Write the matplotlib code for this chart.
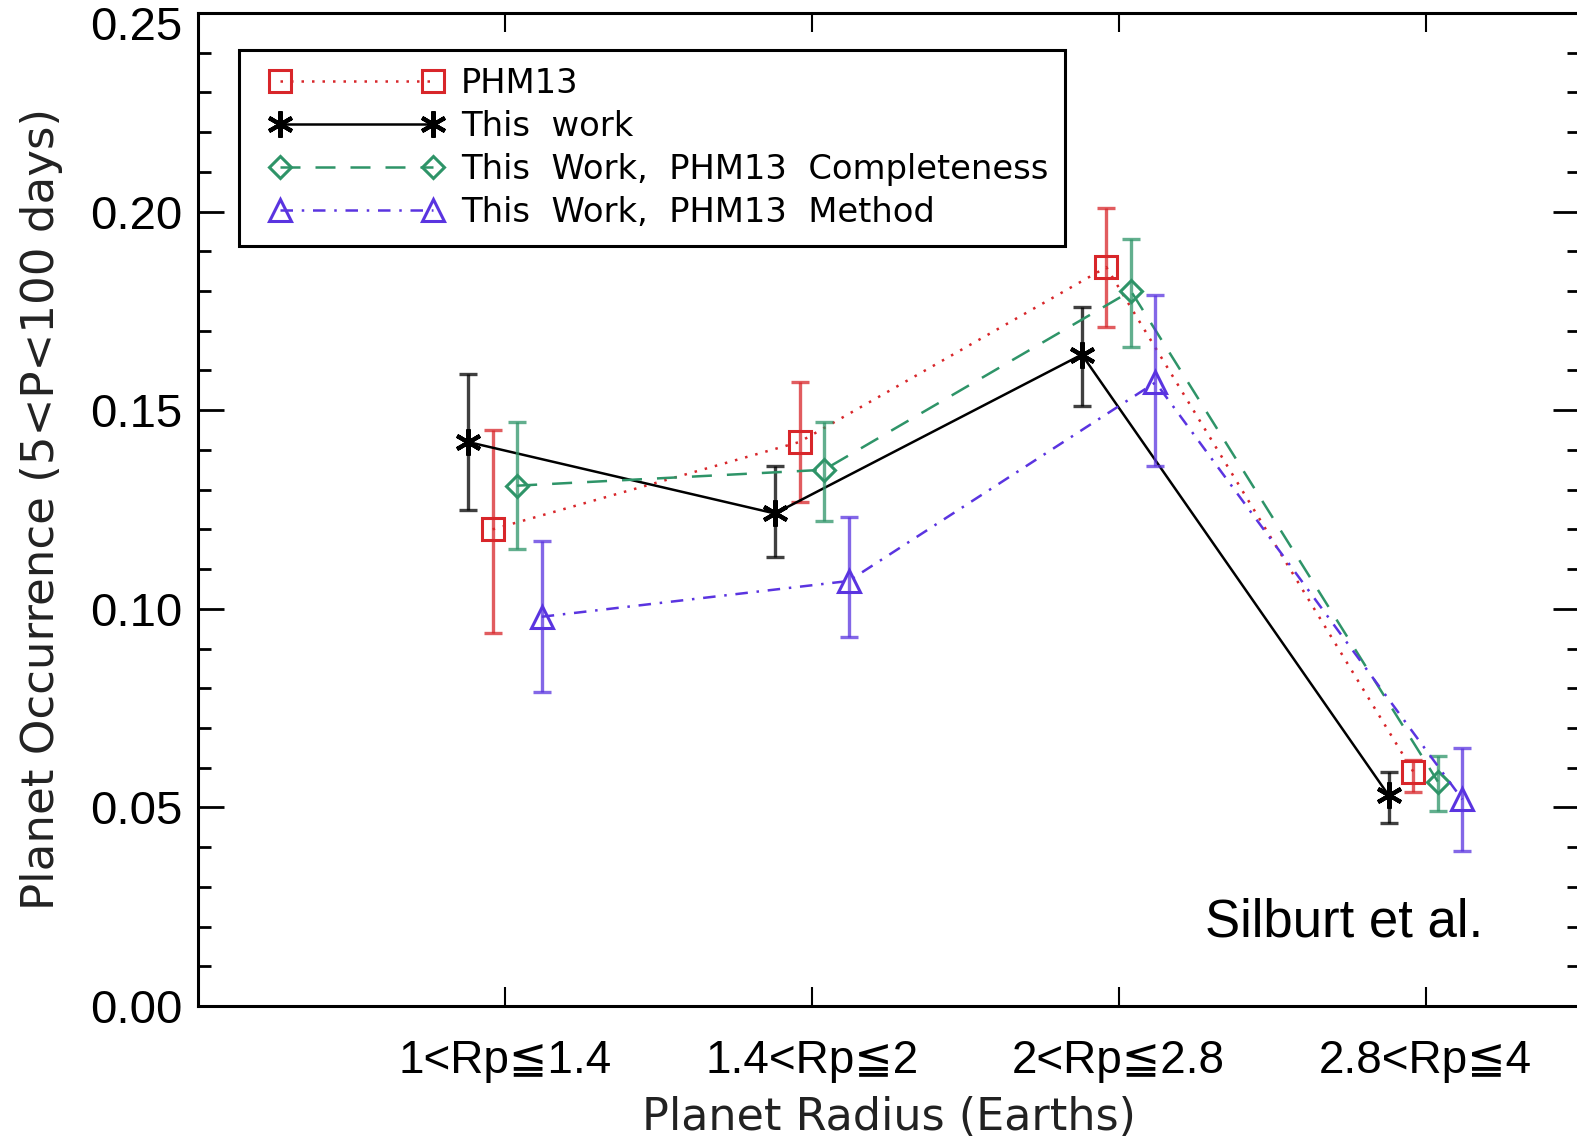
import numpy as np
import matplotlib
matplotlib.use('Agg')
import matplotlib.pyplot as plt
from matplotlib.ticker import MultipleLocator, FuncFormatter
from matplotlib.legend_handler import HandlerLine2D

# radius bins
categories = ["1<Rp≦1.4", "1.4<Rp≦2", "2<Rp≦2.8", "2.8<Rp≦4"]

# PHM13
phm13 = [0.120, 0.142, 0.186, 0.059]
phm13_lo = [0.094, 0.127, 0.171, 0.054]
phm13_hi = [0.145, 0.157, 0.201, 0.062]

# This work
work = [0.142, 0.124, 0.164, 0.053]
work_lo = [0.125, 0.113, 0.151, 0.046]
work_hi = [0.159, 0.136, 0.176, 0.059]

# This Work, PHM13 Completeness
compl = [0.131, 0.135, 0.180, 0.0565]
compl_lo = [0.115, 0.122, 0.166, 0.049]
compl_hi = [0.147, 0.147, 0.193, 0.063]

# This Work, PHM13 Method
meth = [0.098, 0.107, 0.157, 0.052]
meth_lo = [0.079, 0.093, 0.136, 0.039]
meth_hi = [0.117, 0.123, 0.179, 0.065]

sans = ['Liberation Sans', 'DejaVu Sans']
thin = ['DejaVu Sans']

fig = plt.figure(figsize=(15.77, 11.39), dpi=100)
ax = fig.add_axes([198/1577, 1-1006/1139, 1381/1577, 993/1139])

x = np.arange(1, len(categories)+1)

def series(vals, lo, hi, off, color, ls, marker, ms, label, mew=2.2):
    vals = np.array(vals)
    yerr = [vals-np.array(lo), np.array(hi)-vals]
    ax.errorbar(x+off, vals, yerr=yerr, fmt='none', ecolor=color, elinewidth=2.4,
                capsize=6.5, capthick=2.4, alpha=0.75)
    ax.plot(x+off, vals, color=color, linestyle=ls, lw=1.8, marker=marker,
            markersize=ms, mfc='none', mec=color, mew=mew, label=label)

series(phm13, phm13_lo, phm13_hi, -0.04, '#d8262a', (0, (1, 3.2)), 's', 16, 'PHM13')
series(work, work_lo, work_hi, -0.12, 'black', '-', (6, 2, 0), 19, 'This  work', mew=3)
series(compl, compl_lo, compl_hi, 0.04, '#2e9468', (0, (8, 6)), 'D', 11, 'This  Work,  PHM13  Completeness')
series(meth, meth_lo, meth_hi, 0.12, '#5a34e0', (0, (5, 3.5, 1, 3.5)), '^', 16, 'This  Work,  PHM13  Method')

ax.set_xlim(0, 4.5)
ax.set_ylim(0, 0.25)
ax.set_xticks(x)
ax.set_xticklabels(categories, family=sans, fontsize=33)
ax.yaxis.set_major_locator(MultipleLocator(0.05))
ax.yaxis.set_minor_locator(MultipleLocator(0.01))
# top label is drawn separately, shifted down like the original
ax.yaxis.set_major_formatter(FuncFormatter(lambda v, p: '' if v > 0.245 else '%.2f' % v))
for lab in ax.get_yticklabels():
    lab.set_family(sans)
    lab.set_fontsize(34)
ax.annotate('0.25', xy=(0, 0.25), xycoords=('axes fraction', 'data'), xytext=(-11.5, -10.5),
            textcoords='offset points', ha='right', va='center', family=sans, fontsize=34)
ax.tick_params(axis='y', which='major', direction='in', length=19, width=2, left=True, right=True, pad=11)
ax.tick_params(axis='y', which='minor', direction='in', length=9, width=2, left=True, right=True)
ax.tick_params(axis='x', which='major', direction='in', length=14, width=1.5, top=True, bottom=True, pad=24)
for s in ax.spines.values():
    s.set_linewidth(2.2)

ax.set_xlabel('Planet Radius (Earths)', family=thin, fontsize=32, color='#222222', labelpad=9)
ax.set_ylabel('Planet Occurrence (5<P<100 days)', family=thin, fontsize=32.5, color='#222222', labelpad=20)

leg = ax.legend(loc='upper left', bbox_to_anchor=(0.030, 0.963), borderaxespad=0,
                prop={'family': thin, 'size': 24.3}, numpoints=2, handlelength=5.95,
                handletextpad=0.12, labelspacing=0.3, borderpad=0.5, fancybox=False,
                framealpha=1, edgecolor='black',
                handler_map={plt.Line2D: HandlerLine2D(marker_pad=0.7)})
leg.get_frame().set_linewidth(2.2)

ax.text(0.729, 0.0695, 'Silburt et al.', transform=ax.transAxes, family=sans,
        fontsize=38, ha='left', va='baseline')

fig.savefig('out.png', dpi=100)
